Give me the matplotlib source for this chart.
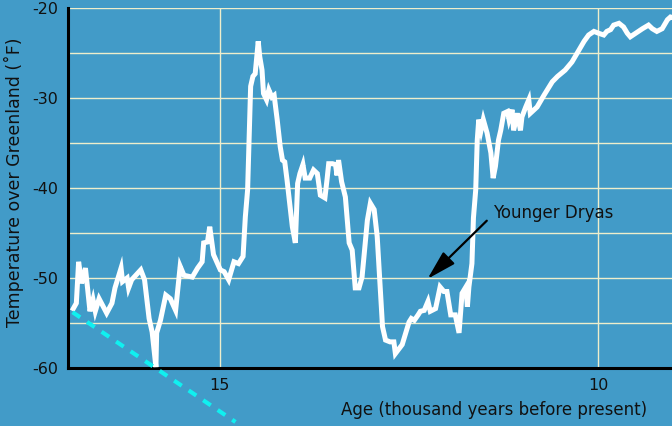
import matplotlib
matplotlib.use("Agg")
import matplotlib.pyplot as plt

plt.rcParams['font.family'] = ['DejaVu Sans']
plt.rcParams['axes.unicode_minus'] = False

# Greenland ice-core temperature record
age = [16.93, 16.89, 16.86, 16.82, 16.77, 16.71, 16.67, 16.64, 16.59, 16.49,
       16.42, 16.38, 16.30, 16.28, 16.22, 16.20, 16.16, 16.04, 15.99, 15.93,
       15.89, 15.84, 15.83, 15.78, 15.71, 15.65, 15.58, 15.52, 15.47, 15.36,
       15.29, 15.23, 15.21, 15.16, 15.13, 15.08, 14.99, 14.94, 14.88, 14.81,
       14.75, 14.69, 14.66, 14.63, 14.59, 14.56, 14.53, 14.49, 14.47, 14.44,
       14.42, 14.38, 14.35, 14.31, 14.28, 14.24, 14.20, 14.17, 14.14, 14.11,
       14.09, 14.04, 14.00, 13.97, 13.94, 13.90, 13.87, 13.81, 13.76, 13.71,
       13.67, 13.61, 13.58, 13.56, 13.51, 13.47, 13.45, 13.43, 13.39, 13.34,
       13.29, 13.25, 13.21, 13.16, 13.12, 13.05, 13.01, 12.96, 12.92, 12.85,
       12.81, 12.75, 12.70, 12.68, 12.59, 12.50, 12.47, 12.43, 12.38, 12.35,
       12.30, 12.25, 12.22, 12.15, 12.09, 12.04, 12.00, 11.95, 11.89, 11.84,
       11.80, 11.75, 11.73, 11.71, 11.67, 11.65, 11.62, 11.60, 11.58, 11.55,
       11.52, 11.47, 11.42, 11.39, 11.36, 11.32, 11.29, 11.25, 11.20, 11.18,
       11.14, 11.12, 11.07, 11.03, 11.01, 10.96, 10.92, 10.90, 10.81, 10.72,
       10.61, 10.54, 10.44, 10.35, 10.26, 10.19, 10.13, 10.06, 10.00, 9.93,
       9.89, 9.84, 9.80, 9.73, 9.67, 9.62, 9.58, 9.51, 9.42, 9.34,
       9.29, 9.23, 9.16, 9.09, 9.05, 9.01]
temp = [-53.4, -52.8, -48.2, -50.6, -48.9, -53.7, -52.4, -53.7, -52.3, -53.9,
        -52.8, -51.1, -48.9, -50.4, -50.0, -51.1, -50.2, -49.1, -50.2, -54.5,
        -56.0, -59.9, -56.1, -54.7, -51.9, -52.3, -53.6, -48.7, -49.7, -49.9,
        -48.9, -48.2, -46.1, -46.0, -44.3, -47.4, -49.1, -49.3, -50.2, -48.2,
        -48.4, -47.6, -43.2, -40.2, -28.7, -27.6, -27.3, -23.7, -25.4, -26.9,
        -29.5, -30.2, -29.1, -29.9, -29.7, -32.4, -35.4, -36.9, -37.1, -39.1,
        -40.6, -44.3, -46.1, -39.5, -38.4, -37.4, -38.9, -38.9, -38.0, -38.4,
        -40.8, -41.1, -38.9, -37.3, -37.3, -37.4, -38.6, -36.9, -39.3, -41.0,
        -46.1, -46.9, -51.1, -51.1, -49.9, -43.6, -41.7, -42.4, -45.4, -55.4,
        -56.9, -57.1, -57.1, -58.4, -57.4, -54.9, -54.5, -54.7, -54.1, -53.7,
        -53.6, -52.6, -53.7, -53.4, -51.0, -51.5, -51.5, -54.1, -54.1, -56.1,
        -51.7, -51.0, -53.2, -51.0, -48.4, -43.3, -40.2, -34.7, -32.4, -33.6,
        -32.4, -33.9, -36.1, -38.9, -37.6, -34.7, -33.6, -31.7, -31.5, -32.4,
        -31.3, -33.6, -31.7, -33.6, -32.1, -31.0, -30.2, -31.7, -31.0, -29.7,
        -28.2, -27.6, -26.9, -26.0, -24.7, -23.7, -23.0, -22.6, -22.8, -23.0,
        -22.6, -22.4, -21.9, -21.7, -22.1, -22.8, -23.2, -22.8, -22.3, -21.9,
        -22.3, -22.6, -22.3, -21.3, -21.0, -21.1]

# dashed cyan trend line
trend_age = [16.94, 14.79]
trend_temp = [-53.8, -66.0]

yticks = [-60, -50, -40, -30, -20]
xticks = [15, 10]

bg = '#429bc8'
fig = plt.figure(figsize=(6.72, 4.26), dpi=100, facecolor=bg)
ax = fig.add_axes([0.1012, 0.1362, 0.8988, 0.845])
ax.set_facecolor(bg)

ax.set_xlim(17.0, 9.03)
ax.set_ylim(-60, -20)

ax.set_yticks(yticks)
ax.set_yticks([-55, -45, -35, -25], minor=True)
ax.set_xticks(xticks)
ax.grid(True, which='both', color='#eeeecc', lw=1.0)
ax.set_axisbelow(True)
ax.tick_params(which='both', length=0, labelsize=11.5, pad=7,
               colors='#111111')

for s in ['top', 'right']:
    ax.spines[s].set_visible(False)
for s in ['left', 'bottom']:
    ax.spines[s].set_linewidth(2.2)
    ax.spines[s].set_color('black')

ax.plot(age, temp, color='white', lw=3.6, solid_joinstyle='miter', zorder=3)
ax.plot(trend_age, trend_temp, color='#10f0f0', lw=3, dashes=(2.2, 2.0),
        clip_on=False, zorder=4)

ax.annotate('Younger Dryas', xy=(12.256, -50.1), xytext=(11.385, -42.8),
            ha='left', va='center', fontsize=12, color='#111111',
            arrowprops=dict(arrowstyle='-|>,head_length=0.9,head_width=0.25',
                            color='black', lw=1.6, relpos=(0.0, 0.45),
                            mutation_scale=20, shrinkA=4, shrinkB=0),
            zorder=5)

ax.set_xlabel('Age (thousand years before present)', fontsize=12,
              va='center', color='#111111')
ax.xaxis.set_label_coords(0.705, -0.117)
ax.set_ylabel('Temperature over Greenland (˚F)', fontsize=12.5,
              va='center', color='#111111')
ax.yaxis.set_label_coords(-0.089, 0.515)

fig.savefig('out.png', dpi=100, facecolor=bg)
